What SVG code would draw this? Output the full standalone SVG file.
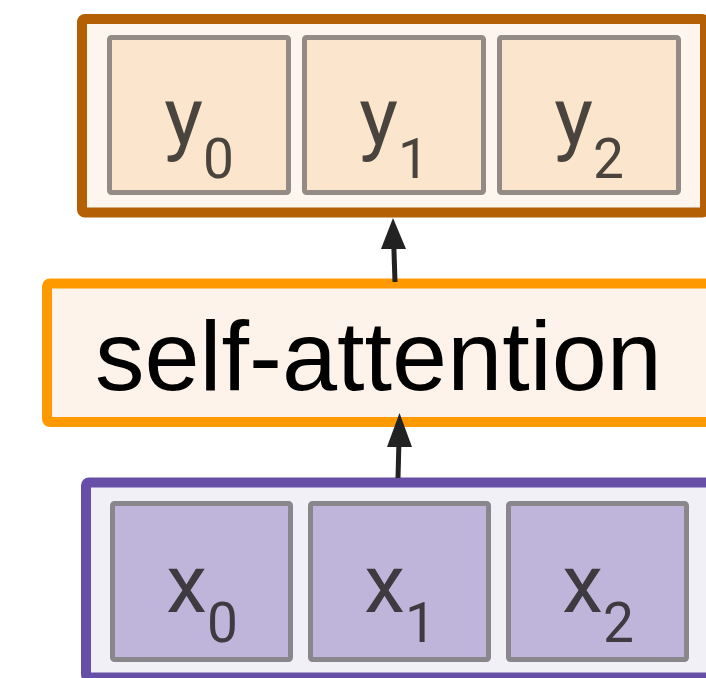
<svg xmlns="http://www.w3.org/2000/svg" width="706" height="678" viewBox="0 0 706 678">
<style>
.outer{stroke-width:10;stroke-linejoin:round}
.cell{stroke-width:5;stroke-linejoin:round}
.ycell{fill:#fce5cd;stroke:#948b86}
.xcell{fill:#bfb4da;stroke:#89878b}
.lbl{font-family:Roboto,"Liberation Sans",sans-serif;font-size:82px;text-anchor:middle}
.sub{font-size:55px}
.conn{stroke:#222;stroke-width:5;fill:none}
</style>
<rect width="706" height="678" fill="#fff"/>
<g id="output">
<rect class="outer" x="82" y="19" width="623" height="193.5" rx="3" fill="#fdf5ee" stroke="#b45f06"/>
<g id="y0"><rect class="cell ycell" x="109.5" y="37.5" width="179" height="155" rx="2"/><text class="lbl" x="199" y="145" fill="#4a443e">y<tspan class="sub" dy="33">0</tspan></text></g>
<g id="y1"><rect class="cell ycell" x="304.5" y="37.5" width="179" height="155" rx="2"/><text class="lbl" x="394" y="145" fill="#4a443e">y<tspan class="sub" dy="33">1</tspan></text></g>
<g id="y2"><rect class="cell ycell" x="499.5" y="37.5" width="179" height="155" rx="2"/><text class="lbl" x="589" y="145" fill="#4a443e">y<tspan class="sub" dy="33">2</tspan></text></g>
</g>
<g id="self-attention">
<rect class="outer" x="47" y="283.5" width="670" height="138.5" rx="3" fill="#fdf3ea" stroke="#ff9900"/>
<text x="95" y="390" font-family="'Liberation Sans',Arial,sans-serif" font-size="99" fill="#000">self-attention</text>
</g>
<g id="input">
<rect class="outer" x="86" y="482.5" width="630" height="195" rx="3" fill="#f1f0f6" stroke="#674ea7"/>
<g id="x0"><rect class="cell xcell" x="112.5" y="503.5" width="178" height="156" rx="2"/><text class="lbl" x="202" y="612" fill="#3d3b40">x<tspan class="sub" dy="30">0</tspan></text></g>
<g id="x1"><rect class="cell xcell" x="310.5" y="503.5" width="178" height="156" rx="2"/><text class="lbl" x="400" y="612" fill="#3d3b40">x<tspan class="sub" dy="30">1</tspan></text></g>
<g id="x2"><rect class="cell xcell" x="508.5" y="503.5" width="178" height="156" rx="2"/><text class="lbl" x="598" y="612" fill="#3d3b40">x<tspan class="sub" dy="30">2</tspan></text></g>
</g>
<g id="connectors">
<line class="conn" x1="395" y1="282" x2="393.5" y2="236"/>
<path d="M393 218 L406 249 L381 249 Z" fill="#222"/>
<line class="conn" x1="398" y1="478" x2="399" y2="440"/>
<path d="M399.5 413 L412 447 L387 447 Z" fill="#222"/>
</g>
</svg>
